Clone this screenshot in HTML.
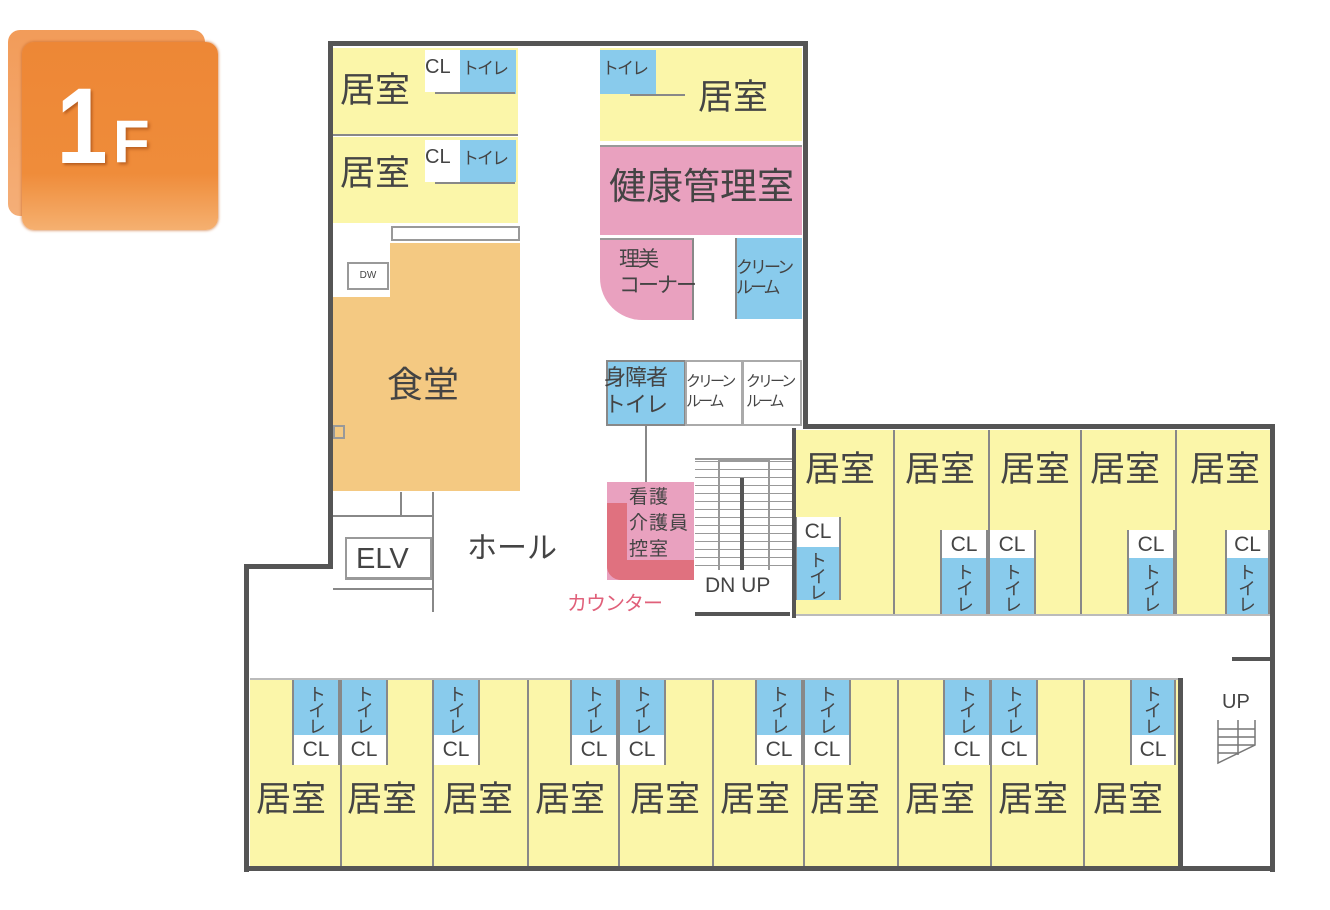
<!DOCTYPE html>
<html><head><meta charset="utf-8"><style>
body{margin:0;width:1330px;height:910px;background:#fff;position:relative;overflow:hidden;font-family:"Liberation Sans","Noto Sans CJK JP",sans-serif;color:#444}
.a{position:absolute;box-sizing:border-box}
.y{background:#fbf6a9}.b{background:#89cbec}.p{background:#e9a1bf}.o{background:#f4c982}
.w{background:#555}
.t{position:absolute;white-space:nowrap;line-height:1}
.r{font-size:35px}
.cl{position:absolute;background:#fff;font-size:21px;text-align:center;line-height:30px;box-sizing:border-box;border-left:2px solid #888;border-right:2px solid #888}
.tv{position:absolute;background:#89cbec;font-size:18px;writing-mode:vertical-rl;text-align:center;line-height:44px;box-sizing:border-box;border-left:2px solid #888;border-right:2px solid #888;padding-top:2px;letter-spacing:-2px}
.g{position:absolute;background:#888}
</style></head><body>
<!-- logo -->
<div class="a" style="left:8px;top:30px;width:197px;height:186px;border-radius:12px;background:linear-gradient(#f08a3c,#f2a060);opacity:.85"></div>
<div class="a" style="left:22px;top:42px;width:196px;height:188px;border-radius:12px;background:linear-gradient(#ed8736 0%,#ef8c3a 70%,#f5b070 100%);box-shadow:0 0 3px #c86a2a"></div>
<div class="t" style="left:52px;top:72px;font-size:108px;font-weight:bold;color:#fff;text-shadow:2px 2px 3px #b85e20;transform:scaleX(.85)">1</div>
<div class="t" style="left:113px;top:112px;font-size:60px;font-weight:bold;color:#fff;text-shadow:2px 2px 3px #b85e20">F</div>

<!-- fills -->
<div class="a y" style="left:333px;top:48px;width:185px;height:86px"></div>
<div class="a y" style="left:333px;top:137px;width:185px;height:86px"></div>
<div class="a" style="left:425px;top:50px;width:35px;height:42px;background:#fff"></div>
<div class="a b" style="left:460px;top:50px;width:56px;height:44px"></div>
<div class="a" style="left:425px;top:140px;width:35px;height:42px;background:#fff"></div>
<div class="a b" style="left:460px;top:140px;width:56px;height:42px"></div>
<div class="g" style="left:333px;top:134px;width:185px;height:2px"></div>
<div class="g" style="left:435px;top:92px;width:80px;height:2px"></div>
<div class="g" style="left:435px;top:182px;width:80px;height:2px"></div>

<div class="a y" style="left:600px;top:48px;width:202px;height:93px"></div>
<div class="a b" style="left:600px;top:50px;width:56px;height:44px"></div>
<div class="g" style="left:630px;top:94px;width:55px;height:2px"></div>
<div class="a p" style="left:600px;top:145px;width:202px;height:90px;border-top:2px solid #999"></div>
<div class="a p" style="left:600px;top:238px;width:94px;height:82px;border-bottom-left-radius:42px;border-top:2px solid #999;border-right:2px solid #888"></div>
<div class="a b" style="left:735px;top:238px;width:67px;height:81px;border-left:2px solid #888"></div>

<div class="a o" style="left:390px;top:243px;width:130px;height:60px"></div>
<div class="a o" style="left:333px;top:297px;width:187px;height:194px"></div>
<div class="a" style="left:391px;top:226px;width:129px;height:15px;border:2px solid #999;background:#fff"></div>
<div class="a" style="left:347px;top:262px;width:42px;height:28px;border:2px solid #999;background:#fff;font-size:10px;text-align:center;line-height:24px">DW</div>
<div class="a" style="left:333px;top:425px;width:12px;height:14px;border:2px solid #999"></div>

<div class="a b" style="left:606px;top:360px;width:80px;height:66px;border:2px solid #888"></div>
<div class="a" style="left:685px;top:360px;width:58px;height:66px;border:2px solid #aaa"></div>
<div class="a" style="left:742px;top:360px;width:60px;height:66px;border:2px solid #aaa"></div>
<div class="g" style="left:645px;top:426px;width:2px;height:56px"></div>

<!-- nurse -->
<div class="a p" style="left:607px;top:482px;width:87px;height:98px"></div>
<div class="a" style="left:607px;top:503px;width:20px;height:77px;background:#e0717f;border-bottom-left-radius:14px"></div>
<div class="a" style="left:607px;top:560px;width:87px;height:20px;background:#e0717f;border-bottom-left-radius:14px"></div>

<!-- stairs -->
<div class="a" style="left:695px;top:430px;width:97px;height:185px;background:repeating-linear-gradient(#fff 0 7px,#999 7px 8px)"></div>
<div class="a" style="left:695px;top:430px;width:97px;height:30px;background:#fff;border-bottom:2px solid #999"></div>
<div class="a" style="left:718px;top:460px;width:52px;height:110px;border:2px solid #999;border-bottom:none"></div>
<div class="g" style="left:740px;top:478px;width:4px;height:95px;background:#555"></div>
<div class="a" style="left:695px;top:570px;width:97px;height:45px;background:#fff"></div>
<div class="g" style="left:695px;top:612px;width:95px;height:4px;background:#555"></div>

<!-- ELV area -->
<div class="g" style="left:333px;top:515px;width:100px;height:2px"></div>
<div class="a" style="left:345px;top:537px;width:87px;height:43px;border:2px solid #999;border-bottom:3px solid #999"></div>
<div class="g" style="left:400px;top:492px;width:2px;height:24px"></div>
<div class="g" style="left:432px;top:492px;width:2px;height:120px"></div>
<div class="g" style="left:333px;top:588px;width:100px;height:2px"></div>

<!-- right wing -->
<div class="a y" style="left:795px;top:430px;width:475px;height:185px"></div>
<div class="a y" style="left:250px;top:680px;width:930px;height:186px"></div>
<div class="a" style="left:1182px;top:680px;width:88px;height:186px;background:#fff"></div>

<!-- dividers -->
<div class="g" style="left:893px;top:430px;width:2px;height:185px"></div>
<div class="g" style="left:988px;top:430px;width:2px;height:185px"></div>
<div class="g" style="left:1080px;top:430px;width:2px;height:185px"></div>
<div class="g" style="left:1175px;top:430px;width:2px;height:185px"></div>
<div class="g" style="left:340px;top:680px;width:2px;height:186px"></div>
<div class="g" style="left:432px;top:680px;width:2px;height:186px"></div>
<div class="g" style="left:527px;top:680px;width:2px;height:186px"></div>
<div class="g" style="left:618px;top:680px;width:2px;height:186px"></div>
<div class="g" style="left:712px;top:680px;width:2px;height:186px"></div>
<div class="g" style="left:803px;top:680px;width:2px;height:186px"></div>
<div class="g" style="left:897px;top:680px;width:2px;height:186px"></div>
<div class="g" style="left:990px;top:680px;width:2px;height:186px"></div>
<div class="g" style="left:1083px;top:680px;width:2px;height:186px"></div>
<div class="g" style="left:250px;top:678px;width:930px;height:2px;background:#bbb"></div>
<div class="g" style="left:795px;top:614px;width:475px;height:2px;background:#bbb"></div>

<!-- upper right toilets -->
<div class="cl" style="left:795px;top:517px;width:46px;height:30px">CL</div>
<div class="tv" style="left:795px;top:547px;width:46px;height:53px">トイレ</div>
<div class="cl" style="left:940px;top:530px;width:48px;height:28px">CL</div>
<div class="tv" style="left:940px;top:558px;width:48px;height:56px">トイレ</div>
<div class="cl" style="left:988px;top:530px;width:48px;height:28px">CL</div>
<div class="tv" style="left:988px;top:558px;width:48px;height:56px">トイレ</div>
<div class="cl" style="left:1127px;top:530px;width:48px;height:28px">CL</div>
<div class="tv" style="left:1127px;top:558px;width:48px;height:56px">トイレ</div>
<div class="cl" style="left:1225px;top:530px;width:45px;height:28px">CL</div>
<div class="tv" style="left:1225px;top:558px;width:45px;height:56px">トイレ</div>

<!-- lower toilets -->
<div class="tv" style="left:292px;top:680px;width:48px;height:55px">トイレ</div><div class="cl" style="left:292px;top:735px;width:48px;height:30px">CL</div>
<div class="tv" style="left:340px;top:680px;width:48px;height:55px">トイレ</div><div class="cl" style="left:340px;top:735px;width:48px;height:30px">CL</div>
<div class="tv" style="left:432px;top:680px;width:48px;height:55px">トイレ</div><div class="cl" style="left:432px;top:735px;width:48px;height:30px">CL</div>
<div class="tv" style="left:570px;top:680px;width:48px;height:55px">トイレ</div><div class="cl" style="left:570px;top:735px;width:48px;height:30px">CL</div>
<div class="tv" style="left:618px;top:680px;width:48px;height:55px">トイレ</div><div class="cl" style="left:618px;top:735px;width:48px;height:30px">CL</div>
<div class="tv" style="left:755px;top:680px;width:48px;height:55px">トイレ</div><div class="cl" style="left:755px;top:735px;width:48px;height:30px">CL</div>
<div class="tv" style="left:803px;top:680px;width:48px;height:55px">トイレ</div><div class="cl" style="left:803px;top:735px;width:48px;height:30px">CL</div>
<div class="tv" style="left:943px;top:680px;width:48px;height:55px">トイレ</div><div class="cl" style="left:943px;top:735px;width:48px;height:30px">CL</div>
<div class="tv" style="left:990px;top:680px;width:48px;height:55px">トイレ</div><div class="cl" style="left:990px;top:735px;width:48px;height:30px">CL</div>
<div class="tv" style="left:1130px;top:680px;width:46px;height:55px">トイレ</div><div class="cl" style="left:1130px;top:735px;width:46px;height:30px">CL</div>

<!-- walls -->
<div class="a w" style="left:328px;top:41px;width:480px;height:5px"></div>
<div class="a w" style="left:328px;top:41px;width:5px;height:528px"></div>
<div class="a w" style="left:803px;top:41px;width:5px;height:388px"></div>
<div class="a w" style="left:803px;top:424px;width:472px;height:5px"></div>
<div class="a w" style="left:1270px;top:424px;width:5px;height:448px"></div>
<div class="a w" style="left:244px;top:564px;width:89px;height:5px"></div>
<div class="a w" style="left:244px;top:564px;width:5px;height:308px"></div>
<div class="a w" style="left:244px;top:866px;width:1031px;height:5px"></div>
<div class="a w" style="left:1178px;top:678px;width:5px;height:190px"></div>
<div class="a w" style="left:792px;top:428px;width:4px;height:190px"></div>
<div class="a w" style="left:1232px;top:657px;width:40px;height:4px"></div>

<!-- UP stair -->
<svg class="a" style="left:1210px;top:715px" width="55" height="55"><g stroke="#777" stroke-width="1.5" fill="none"><path d="M8 5V48L45 30V5"/><path d="M8 14H45M8 22H45M8 30H45M8 38H28M28 5V40"/></g></svg>

<!-- labels -->
<div class="t r" style="left:340px;top:73px">居室</div>
<div class="t" style="left:425px;top:57px;font-size:20px">CL</div>
<div class="t" style="left:462px;top:60px;font-size:17px;letter-spacing:-2px">トイレ</div>
<div class="t r" style="left:340px;top:156px">居室</div>
<div class="t" style="left:425px;top:147px;font-size:20px">CL</div>
<div class="t" style="left:462px;top:150px;font-size:17px;letter-spacing:-2px">トイレ</div>
<div class="t" style="left:602px;top:60px;font-size:17px;letter-spacing:-2px">トイレ</div>
<div class="t r" style="left:698px;top:80px">居室</div>
<div class="t" style="left:609px;top:168px;font-size:37px">健康管理室</div>
<div class="t" style="left:619px;top:247px;font-size:21px;line-height:26px;letter-spacing:-2px">理美<br>コーナー</div>
<div class="t" style="left:736px;top:258px;font-size:17px;line-height:20px;letter-spacing:-3px">クリーン<br>ルーム</div>
<div class="t" style="left:604px;top:364px;font-size:22px;line-height:27px;text-align:center;letter-spacing:-1px">身障者<br>トイレ</div>
<div class="t" style="left:686px;top:372px;font-size:15px;line-height:20px;letter-spacing:-3px">クリーン<br>ルーム</div>
<div class="t" style="left:746px;top:372px;font-size:15px;line-height:20px;letter-spacing:-3px">クリーン<br>ルーム</div>
<div class="t" style="left:387px;top:367px;font-size:36px">食堂</div>
<div class="t" style="left:356px;top:545px;font-size:29px">ELV</div>
<div class="t" style="left:467px;top:534px;font-size:30px">ホール</div>
<div class="t" style="left:629px;top:485px;font-size:19px;line-height:26px;letter-spacing:1px">看護<br>介護員<br>控室</div>
<div class="t" style="left:567px;top:594px;font-size:20px;color:#e0607a;letter-spacing:-1px">カウンター</div>
<div class="t" style="left:705px;top:575px;font-size:21px">DN UP</div>
<div class="t" style="left:1222px;top:692px;font-size:20px">UP</div>

<div class="t r" style="left:805px;top:452px">居室</div>
<div class="t r" style="left:905px;top:452px">居室</div>
<div class="t r" style="left:1000px;top:452px">居室</div>
<div class="t r" style="left:1090px;top:452px">居室</div>
<div class="t r" style="left:1190px;top:452px">居室</div>

<div class="t r" style="left:256px;top:782px">居室</div>
<div class="t r" style="left:347px;top:782px">居室</div>
<div class="t r" style="left:443px;top:782px">居室</div>
<div class="t r" style="left:535px;top:782px">居室</div>
<div class="t r" style="left:630px;top:782px">居室</div>
<div class="t r" style="left:720px;top:782px">居室</div>
<div class="t r" style="left:810px;top:782px">居室</div>
<div class="t r" style="left:905px;top:782px">居室</div>
<div class="t r" style="left:998px;top:782px">居室</div>
<div class="t r" style="left:1093px;top:782px">居室</div>
</body></html>
